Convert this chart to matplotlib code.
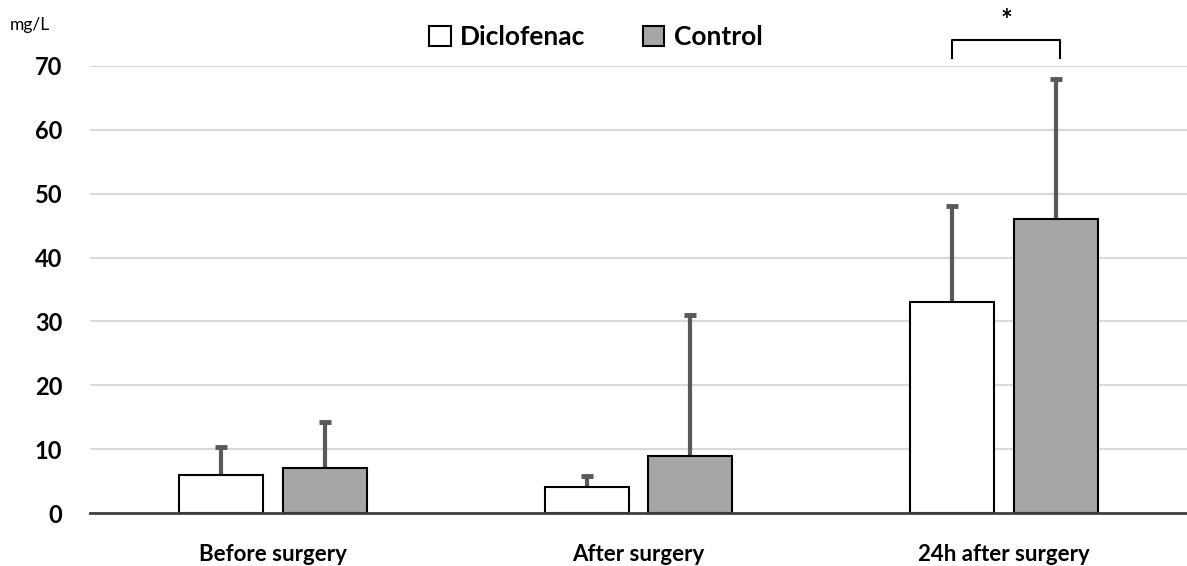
import matplotlib.pyplot as plt
import numpy as np

plt.rcParams['font.family'] = ['Lato', 'DejaVu Sans']

groups = ['Before surgery', 'After surgery', '24h after surgery']
diclofenac = [6, 4, 33]
diclofenac_sd = [4.3, 1.8, 15]
control = [7, 9, 46]
control_sd = [7.2, 22, 22]
yticks = [0, 10, 20, 30, 40, 50, 60, 70]

fig = plt.figure(figsize=(11.87, 5.66), dpi=100)
ax = fig.add_axes([0.0758, 0.0936, 0.9242, 0.7898])

x = np.arange(len(groups))
w = 0.23
off = 0.142

ax.bar(x - off, diclofenac, w, color='white', edgecolor='black', linewidth=1.5,
       zorder=3, label='Diclofenac')
ax.bar(x + off, control, w, color='#a6a6a6', edgecolor='black', linewidth=1.5,
       zorder=3, label='Control')

# upper error bars only
for xs, vals, sds in [(x - off, diclofenac, diclofenac_sd), (x + off, control, control_sd)]:
    tops = np.array(vals) + np.array(sds)
    ax.vlines(xs, vals, tops, color='#595959', lw=3, zorder=2)
    ax.plot(xs, tops, ls='none', marker='_', ms=8, mew=3.5, color='#595959', zorder=2)

ax.set_xlim(-0.5, 2.5)
ax.set_ylim(0, 70)
ax.set_yticks(yticks)
ax.set_xticks(x)
ax.set_xticklabels(groups, fontsize=16, fontweight='bold')
ax.tick_params(axis='y', labelsize=17, length=0, pad=20)
for lab in ax.get_yticklabels():
    lab.set_fontweight('bold')
ax.tick_params(axis='x', length=0, pad=22)
ax.grid(axis='y', color='#d9d9d9', linewidth=1.5, zorder=0)
for s in ['top', 'right', 'left']:
    ax.spines[s].set_visible(False)
ax.spines['bottom'].set_color('#404040')
ax.spines['bottom'].set_linewidth(2)
ax.spines['bottom'].set_zorder(4)

# significance bracket
bx0, bx1 = x[2] - off, x[2] + off + 0.01
ax.plot([bx0, bx0, bx1, bx1], [71.2, 74, 74, 71.2], color='black', lw=1.5, clip_on=False)
ax.text((bx0 + bx1) / 2, 77.0, '*', ha='center', va='center', fontsize=20, fontweight='bold')

fig.text(0.008, 0.955, 'mg/L', fontsize=12.5, ha='left', va='center')

leg = fig.legend(loc='center', bbox_to_anchor=(0.502, 0.935), ncol=2, frameon=False,
                 handlelength=0.8, handleheight=0.8, handletextpad=0.35, columnspacing=2.2,
                 prop={'size': 19, 'weight': 'bold'})

fig.savefig('out.png', dpi=100)
